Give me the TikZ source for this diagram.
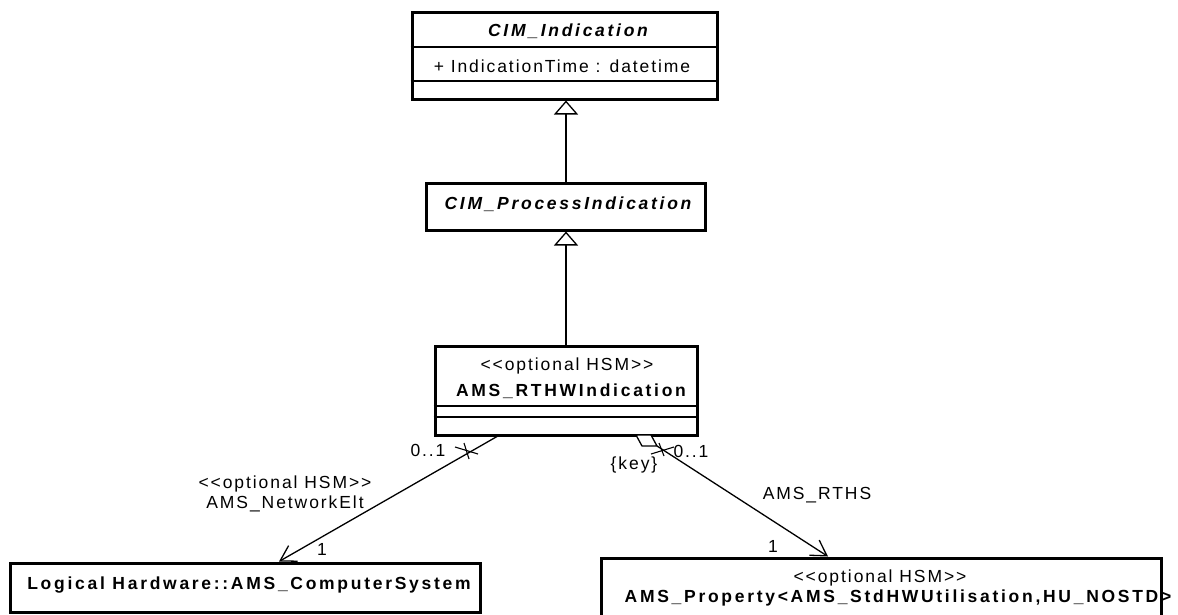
\documentclass[tikz,border=0pt]{standalone}
\usepackage{fontspec}
\setmainfont{Liberation Sans}
\newfontfamily\regf[LetterSpace=11]{Liberation Sans}
\newfontfamily\boldf[LetterSpace=15.5]{Liberation Sans}
\usetikzlibrary{arrows.meta,calc}
\begin{document}
\begin{tikzpicture}[x=1pt,y=-1pt,
  box/.style={draw, line width=3pt, inner sep=0pt, fill=white},
  div/.style={line width=1.3pt},
  txt/.style={inner sep=0pt, font=\regf\fontsize{17.5}{19}\selectfont},
  btxt/.style={inner sep=0pt, font=\boldf\bfseries\fontsize{17.5}{19}\selectfont},
  bitxt/.style={inner sep=0pt, font=\boldf\bfseries\itshape\fontsize{17.5}{19}\selectfont},
  gen/.style={line width=1.3pt, -{Triangle[open,length=14pt,width=24pt,fill=white]}},
  assoc/.style={line width=1.3pt, -{Straight Barb[length=15pt,width=18pt]}},
  conn/.style={line width=1.3pt},
  xmark/.style={line width=1.1pt}
]
\useasboundingbox (0,0) rectangle (1178,614);
\clip (0,0) rectangle (1178,614);

% CIM_Indication
\node[box, minimum width=305pt, minimum height=87pt] (ind) at (564.5,55.5) {};
\draw[div] (ind.west |- 0,47) -- (ind.east |- 0,47);
\draw[div] (ind.west |- 0,81) -- (ind.east |- 0,81);
\node[bitxt] (indt) at (568,31) {CIM\_Indication};
\node[txt] (inda) at (562,66) {+ IndicationTime : datetime};

% CIM_ProcessIndication
\node[box, minimum width=279pt, minimum height=47pt] (proc) at (566,206.5) {};
\node[bitxt] (proct) at (568,204) {CIM\_ProcessIndication};

% AMS_RTHWIndication
\node[box, minimum width=262pt, minimum height=89pt] (rthw) at (566,390.5) {};
\draw[div] (rthw.west |- 0,406) -- (rthw.east |- 0,406);
\draw[div] (rthw.west |- 0,417) -- (rthw.east |- 0,417);
\node[txt] (rthws) at (567,366) {<{}<optional HSM>{}>};
\node[btxt] (rthwt) at (571,391) {AMS\_RTHWIndication};

% Logical Hardware box
\node[box, minimum width=470pt, minimum height=49pt] (lhw) at (245,587.5) {};
\node[btxt] (lhwt) at (249,585) {Logical Hardware::AMS\_ComputerSystem};

% AMS_Property box
\node[box, minimum width=560pt, minimum height=90pt] (prop) at (881,603) {};
\node[txt] (props) at (880,578) {<{}<optional HSM>{}>};
\node[btxt] (propt) at (898,598) {AMS\_Property<AMS\_StdHWUtilisation,HU\_NOSTD>};

% generalizations
\draw[gen] (proc.north) -- (proc.north |- ind.south);
\draw[gen] (rthw.north) -- (rthw.north |- proc.south);

% left association
\coordinate (l0) at ([xshift=-69pt]rthw.south);
\coordinate (l1) at ([xshift=34pt]lhw.north);
\draw[assoc] (l0) -- (l1);
\draw[xmark] (455,447) -- (478,454);
\draw[xmark] (464,443) -- (469,459);
\node[txt] (lm0) at (428,450) {0..1};
\node[txt, align=center] (lname) at (285,494) {<{}<optional HSM>{}>\\[1pt]AMS\_NetworkElt};
\node[txt] (lm1) at (322,549) {1};

% right association (aggregation diamond)
\coordinate (d0) at (636,435);
\coordinate (d1) at (651,435);
\coordinate (d2) at (657,446);
\coordinate (d3) at (642,446);
\draw[conn, fill=white] (d0) -- (d1) -- (d2) -- (d3) -- cycle;
\coordinate (r1) at ([xshift=-53pt]prop.north);
\draw[assoc] (d2) -- (r1);
\draw[xmark] (651,454) -- (674,447);
\draw[xmark] (659,443) -- (664,456);
\node[txt] (rm0) at (691,451) {0..1};
\node[txt] (rkey) at (634,465) {\{key\}};
\node[txt] (rname) at (817,495) {AMS\_RTHS};
\node[txt] (rm1) at (773,546) {1};
\end{tikzpicture}
\end{document}
